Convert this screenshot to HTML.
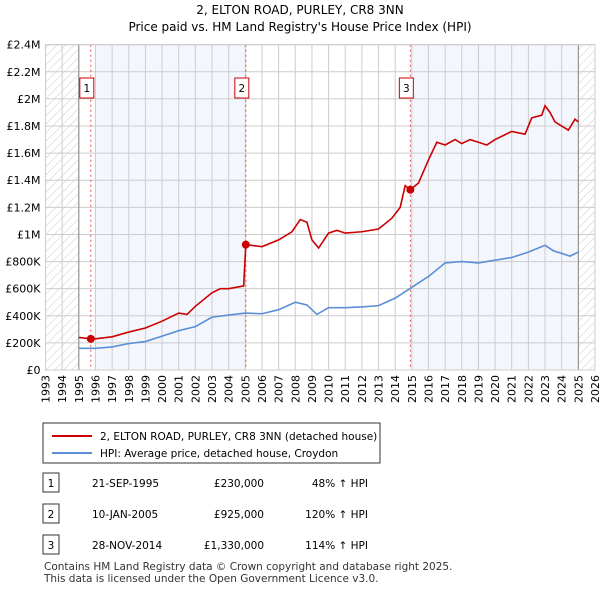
<!DOCTYPE html><html><head><meta charset="utf-8"><style>
body{margin:0;background:#fff;font-family:"Liberation Sans","DejaVu Sans",sans-serif;}
svg text{font-family:"DejaVu Sans","Liberation Sans",sans-serif;}
</style></head><body>
<svg id="c" width="600" height="590" xmlns="http://www.w3.org/2000/svg">
<defs><pattern id="h" width="6" height="6" patternUnits="userSpaceOnUse" patternTransform="rotate(45)"><line x1="0" y1="0" x2="0" y2="6" stroke="#ccc" stroke-width="1"/></pattern></defs>
<text x="300" y="14" text-anchor="middle" font-size="12">2, ELTON ROAD, PURLEY, CR8 3NN</text>
<text x="300" y="31" text-anchor="middle" font-size="12">Price paid vs. HM Land Registry's House Price Index (HPI)</text>
<g id="plot"></g>
<g>
<rect x="43" y="423" width="337" height="40" fill="#fff" stroke="#333"/>
<line x1="52" y1="436" x2="92" y2="436" stroke="#cc0000" stroke-width="2"/>
<text x="100" y="440" font-size="10.5">2, ELTON ROAD, PURLEY, CR8 3NN (detached house)</text>
<line x1="52" y1="453" x2="92" y2="453" stroke="#5b8fd6" stroke-width="2"/>
<text x="100" y="457" font-size="10.5">HPI: Average price, detached house, Croydon</text>
</g>
<g id="tbl" font-size="10.5"></g>
<text x="44" y="570" font-size="10.5" fill="#333">Contains HM Land Registry data © Crown copyright and database right 2025.</text>
<text x="44" y="582" font-size="10.5" fill="#333">This data is licensed under the Open Government Licence v3.0.</text>
</svg>
<script>
const hpiYears=[1995,1996,1997,1998,1999,2000,2001,2002,2003,2004,2005,2006,2007,2008,2008.7,2009.3,2010,2011,2012,2013,2014,2015,2016,2017,2018,2019,2020,2021,2022,2023,2023.5,2024,2024.5,2025];
const hpiValues=[160000,160000,170000,195000,210000,250000,290000,320000,390000,405000,420000,415000,445000,500000,480000,410000,460000,460000,465000,475000,530000,610000,690000,790000,800000,790000,810000,830000,870000,920000,880000,860000,840000,870000];
const redYears=[1995,1995.72,1996,1997,1998,1999,2000,2001,2001.5,2002,2003,2003.5,2004,2004.9,2005.03,2006,2007,2007.8,2008.3,2008.7,2009,2009.4,2010,2010.5,2011,2012,2013,2013.8,2014.3,2014.6,2014.91,2015.4,2016,2016.5,2017,2017.6,2018,2018.5,2019,2019.5,2020,2020.5,2021,2021.8,2022.2,2022.8,2023,2023.3,2023.6,2024,2024.4,2024.8,2025];
const redValues=[240000,230000,230000,245000,280000,310000,360000,420000,410000,470000,570000,600000,600000,620000,925000,910000,960000,1020000,1110000,1090000,960000,900000,1010000,1030000,1010000,1020000,1040000,1120000,1200000,1360000,1330000,1380000,1550000,1680000,1660000,1700000,1670000,1700000,1680000,1660000,1700000,1730000,1760000,1740000,1860000,1880000,1950000,1900000,1830000,1800000,1770000,1850000,1830000];
const yTicks=[0,200000,400000,600000,800000,1000000,1200000,1400000,1600000,1800000,2000000,2200000,2400000];
const yTickLabels=["£0","£200K","£400K","£600K","£800K","£1M","£1.2M","£1.4M","£1.6M","£1.8M","£2M","£2.2M","£2.4M"];
const saleYears=[1995.72,2005.03,2014.91];
const saleValues=[230000,925000,1330000];
const saleLabels=["1","2","3"];
const saleDates=["21-SEP-1995","10-JAN-2005","28-NOV-2014"];
const salePrices=["£230,000","£925,000","£1,330,000"];
const saleHpi=["48% ↑ HPI","120% ↑ HPI","114% ↑ HPI"];
const X0=45.5,X1=595,Y0=370,Y1=44.7;
const x=v=>X0+(v-1993)/33*(X1-X0);
const y=v=>Y0-v/2400000*(Y0-Y1);
const NS="http://www.w3.org/2000/svg";
const g=document.getElementById('plot');
function mk(t,a,p){const e=document.createElementNS(NS,t);for(const k in a)e.setAttribute(k,a[k]);(p||g).appendChild(e);return e;}
let e;
e=mk('rect',{x:x(1993),y:Y1,width:x(1995)-x(1993),height:Y0-Y1,fill:'url(#h)'});

e=mk('rect',{x:x(2025),y:Y1,width:X1-x(2025),height:Y0-Y1,fill:'url(#h)'});

e=mk('rect',{x:x(1996),y:Y1,width:x(2005.03)-x(1996),height:Y0-Y1,fill:'#eef3fc',opacity:0.7});

e=mk('rect',{x:x(2014.91),y:Y1,width:x(2025)-x(2014.91),height:Y0-Y1,fill:'#eef3fc',opacity:0.7});

for(let yr=1993;yr<=2026;yr++){
 e=mk('line',{x1:x(yr),x2:x(yr),y1:Y1,y2:Y0,stroke:'#ccc'});
 
 e=mk('text',{transform:`translate(${x(yr)+4},${Y0+5}) rotate(-90)`,'text-anchor':'end','font-size':'11'});
 e.textContent=yr;
 
}
yTicks.forEach((v,i)=>{
 e=mk('line',{x1:X0,x2:X1,y1:y(v),y2:y(v),stroke:'#ccc'});
 
 e=mk('text',{x:X0-5,y:y(v)+4,'text-anchor':'end','font-size':'11'});
 e.textContent=yTickLabels[i];
 
});
[1995,2025].forEach(v=>{e=mk('line',{x1:x(v),x2:x(v),y1:Y1,y2:Y0,stroke:'#888'});});
saleYears.forEach(v=>{e=mk('line',{x1:x(v),x2:x(v),y1:Y1,y2:Y0,stroke:'#e05050','stroke-dasharray':'2,3'});});
e=mk('polyline',{points:hpiYears.map((v,i)=>x(v)+','+y(hpiValues[i])).join(' '),fill:'none',stroke:'#5b8fd6','stroke-width':1.6});

e=mk('polyline',{points:redYears.map((v,i)=>x(v)+','+y(redValues[i])).join(' '),fill:'none',stroke:'#cc0000','stroke-width':1.6});

saleYears.forEach((v,i)=>{
 e=mk('circle',{cx:x(v),cy:y(saleValues[i]),r:4,fill:'#cc0000'});
 
 e=mk('rect',{x:x(v)-11,y:78,width:14,height:20,fill:'#fff',stroke:'#cc0000'});
 
 e=mk('text',{x:x(v)-4,y:92,'text-anchor':'middle','font-size':'10.5'});e.textContent=saleLabels[i];
 
});
e=mk('rect',{x:X0,y:Y1,width:X1-X0,height:Y0-Y1,fill:'none',stroke:'#ccc'});

const t=document.getElementById('tbl');const rowsY=[483,514,545];
saleLabels.forEach((l,i)=>{
 const yy=rowsY[i];
 e=mk('rect',{x:43,y:yy-10,width:16,height:19,fill:'#fff',stroke:'#333'},t);
 
 const cells=[[51,l,'middle'],[92,saleDates[i],'start'],[264,salePrices[i],'end'],[368,saleHpi[i],'end']];
 cells.forEach(c=>{e=mk('text',{x:c[0],y:yy+4,'text-anchor':c[2]},t);e.textContent=c[1];
 });
});
</script></body></html>
